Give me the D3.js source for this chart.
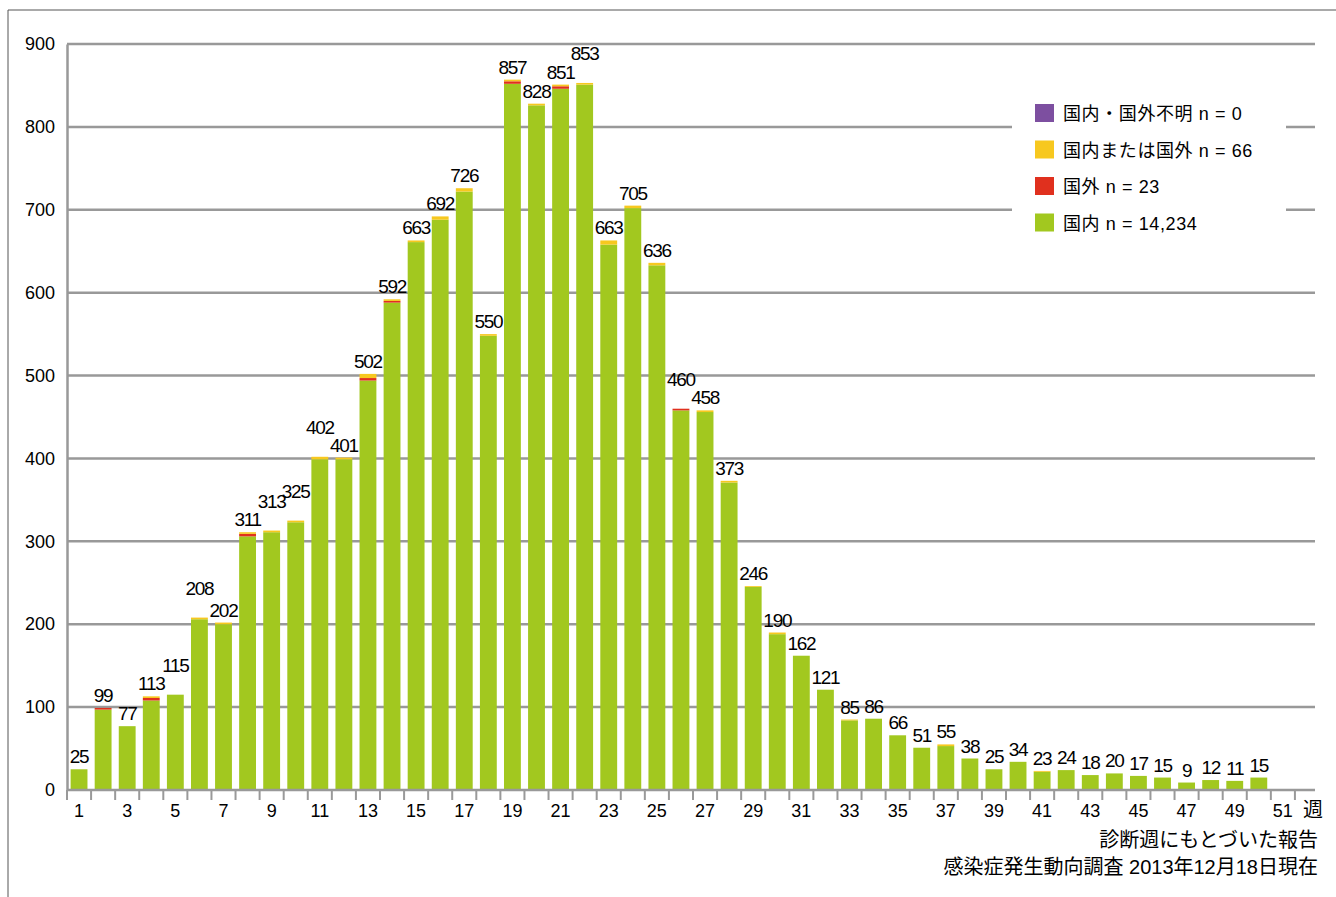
<!DOCTYPE html>
<html><head><meta charset="utf-8">
<script src="https://cdn.jsdelivr.net/npm/d3@7"></script>
<style>body{margin:0;background:#fff;font-family:"Liberation Sans","Noto Sans CJK JP",sans-serif;}</style>
</head><body><svg id="c" width="1336" height="897"></svg>
<script>
// weekly totals, week 1..50
const weeks = d3.range(1, 51)
const totals = [25,99,77,113,115,208,202,311,313,325,402,401,502,592,663,692,726,550,857,828,
  851,853,663,705,636,460,458,373,246,190,162,121,85,86,66,51,55,38,25,34,
  23,24,18,20,17,15,9,12,11,15]
// foreign (red) by week
const foreign = {2:2,4:3,8:3,13:3,14:2,19:3,21:3,26:2,}
// domestic or foreign (yellow) by week
const either = {4:2,6:2,7:2,8:2,9:2,10:2,11:3,12:2,13:5,14:2,15:2,16:4,17:4,18:2,19:2,20:2,21:2,22:2,
  23:5,24:3,25:3,27:2,28:2,29:1,30:2,33:1,37:2,41:1}
const yTicks = [0,100,200,300,400,500,600,700,800,900]
const legendLabels = ["国内・国外不明 n = 0","国内または国外 n = 66","国外 n = 23","国内 n = 14,234"]
const colors = {green:"#a2c81f", red:"#e0301e", yellow:"#f7c81f", purple:"#7d4fa0"}

const rows = weeks.map((w, i) => {
  const r = foreign[w] || 0, y = either[w] || 0
  return {week: w, dom: totals[i] - r - y, red: r, yellow: y, unk: 0, total: totals[i], lift: 0}
})
// raise the higher of two neighbouring 3-digit labels that would collide
rows.forEach((d, i) => {
  const n = rows[i + 1]
  if (n && d.total >= 100 && n.total >= 100 && Math.abs(d.total - n.total) < 15) {
    if (d.total >= n.total) d.lift = 17; else n.lift = 17
  }
})

const svg = d3.select("#c")
// frame
svg.append("path").attr("d","M8,897V10H1336").attr("fill","none").attr("stroke","#555").attr("stroke-width",1)

const x = d3.scaleBand().domain(d3.range(1, 53)).range([67, 1319]).paddingInner(0.3).paddingOuter(0.15)
const y = d3.scaleLinear().domain([0, 900]).range([790, 44])

// grid
svg.append("g").selectAll("line").data(yTicks.slice(1)).join("line")
  .attr("x1", 67).attr("x2", 1315).attr("y1", d => y(d)).attr("y2", d => y(d))
  .attr("stroke", "#999").attr("stroke-width", 2.5)

const stack = d3.stack().keys(["dom","red","yellow","unk"])(rows)
const keyColor = {dom: colors.green, red: colors.red, yellow: colors.yellow, unk: colors.purple}
svg.append("g").selectAll("g").data(stack).join("g").attr("fill", d => keyColor[d.key])
  .selectAll("rect").data(d => d).join("rect")
  .attr("x", d => x(d.data.week)).attr("width", x.bandwidth())
  .attr("y", d => y(d[1])).attr("height", d => y(d[0]) - y(d[1]))

// value labels
svg.append("g").selectAll("text").data(rows).join("text")
  .attr("x", d => x(d.week) + x.bandwidth() / 2).attr("y", d => y(d.total) - 6 - d.lift)
  .attr("text-anchor", "middle").attr("font-size", 19).attr("letter-spacing", -1.3)
  .text(d => d.total)

// y axis
const ya = svg.append("g").attr("transform", "translate(67,0)")
  .call(d3.axisLeft(y).tickValues(yTicks).tickSize(0).tickPadding(12))
ya.select(".domain").attr("stroke", "#999").attr("stroke-width", 2.5)
ya.selectAll("text").attr("font-size", 18).attr("fill", "#000").attr("font-family", "Liberation Sans")

// x axis
const xa = svg.append("g").attr("transform", "translate(0,790)")
xa.append("line").attr("x1", 67).attr("x2", 1315).attr("stroke", "#999").attr("stroke-width", 2.5)
xa.selectAll("line.t").data(d3.range(1, 53)).join("line").attr("class", "t")
  .attr("x1", d => x(d) - x.step() * 0.15).attr("x2", d => x(d) - x.step() * 0.15)
  .attr("y1", 0).attr("y2", 10).attr("stroke", "#999").attr("stroke-width", 2)
xa.selectAll("text").data(d3.range(1, 52, 2)).join("text")
  .attr("x", d => x(d) + x.bandwidth() / 2).attr("y", 27).attr("text-anchor", "middle")
  .attr("font-size", 18).text(d => d)
xa.append("text").attr("x", 1303).attr("y", 27).attr("font-size", 20).text("週")

// legend
const lg = svg.append("g")
lg.append("rect").attr("x", 1012).attr("y", 96).attr("width", 274).attr("height", 148).attr("fill", "#fff")
const legColors = [colors.purple, colors.yellow, colors.red, colors.green]
legendLabels.forEach((t, i) => {
  const yy = 113 + i * 36.5
  lg.append("rect").attr("x", 1035).attr("y", yy - 9).attr("width", 19).attr("height", 18).attr("fill", legColors[i])
  lg.append("text").attr("x", 1063).attr("y", yy + 7).attr("font-size", 18).attr("letter-spacing", 0.6).text(t)
})

// footnote
svg.append("text").attr("x", 1318).attr("y", 847).attr("text-anchor", "end").attr("font-size", 20).text("診断週にもとづいた報告")
svg.append("text").attr("x", 1318).attr("y", 874).attr("text-anchor", "end").attr("font-size", 20).text("感染症発生動向調査 2013年12月18日現在")
</script></body></html>
